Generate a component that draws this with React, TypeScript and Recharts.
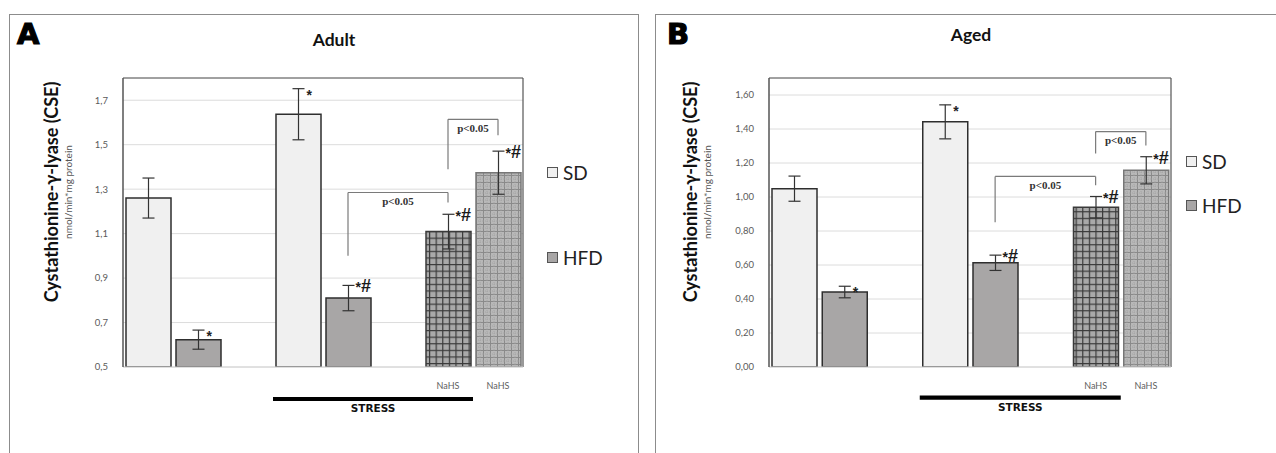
import React from 'react';
import {
  BarChart,
  Bar,
  XAxis,
  YAxis,
  CartesianGrid,
  ErrorBar,
  Cell,
  LabelList,
  ReferenceLine,
  ReferenceArea,
} from 'recharts';

// Eight slots along the x axis: two diet groups, a gap, stressed pair, a gap, NaHS pair
const slots = ['s1', 's2', 's3', 's4', 's5', 's6', 's7', 's8'];
const slotLabels = ['', '', '', '', '', '', 'NaHS', 'NaHS'];
const slotKinds = ['sd', 'hfd', 'none', 'sd', 'hfd', 'none', 'nahsSd', 'nahsHfd'];

// Adult animals
const adultValues = [1.26, 0.623, null, 1.637, 0.81, null, 1.109, 1.374];
const adultErrors = [0.09, 0.043, null, 0.115, 0.057, null, 0.078, 0.097];
const adultMarks = ['', '*', '', '*', '*#', '', '*#', '*#'];
const adultTicks = [0.5, 0.7, 0.9, 1.1, 1.3, 1.5, 1.7];
const adultDomain = [0.5, 1.8];
// brackets: [from slot, to slot, left foot, top, right foot]
const adultBrackets: [string, string, number, number, number][] = [
  ['s5', 's7', 1.0, 1.285, 1.24],
  ['s7', 's8', 1.389, 1.614, 1.542],
];
const adultStressBand = [0.347, 0.365];

// Aged animals
const agedValues = [1.049, 0.441, null, 1.442, 0.613, null, 0.94, 1.157];
const agedErrors = [0.074, 0.034, null, 0.1, 0.045, null, 0.063, 0.08];
const agedMarks = ['', '*', '', '*', '*#', '', '*#', '*#'];
const agedTicks = [0, 0.2, 0.4, 0.6, 0.8, 1.0, 1.2, 1.4, 1.6];
const agedDomain = [0, 1.7];
const agedBrackets: [string, string, number, number, number][] = [
  ['s5', 's7', 0.852, 1.121, 1.069],
  ['s7', 's8', 1.256, 1.385, 1.303],
];
const agedStressBand = [-0.192, -0.168];

// the stress period covers the stressed pair and the SD + NaHS slot
const stressSlots = ['s4', 's7'];

const legendItems = [
  { name: 'SD', fill: '#f0f0f0' },
  { name: 'HFD', fill: '#a8a6a6' },
];

type PanelProps = {
  id: string;
  values: (number | null)[];
  errors: (number | null)[];
  marks: string[];
  ticks: number[];
  domain: number[];
  decimals: number;
  brackets: [string, string, number, number, number][];
  stressBand: number[];
  width: number;
  margin: { top: number; right: number; bottom: number; left: number };
};

const fillFor = (id: string, kind: string) => {
  switch (kind) {
    case 'sd':
      return { fill: '#f0f0f0', stroke: '#2e2e2e' };
    case 'hfd':
      return { fill: '#a8a6a6', stroke: '#2e2e2e' };
    case 'nahsSd':
      return { fill: `url(#gridDark-${id})`, stroke: '#3a3a3a' };
    case 'nahsHfd':
      return { fill: `url(#gridLight-${id})`, stroke: '#777' };
    default:
      return { fill: 'none', stroke: 'none' };
  }
};

const Panel = (p: PanelProps) => {
  const rows = slots.map((s, i) => ({
    slot: s,
    value: p.values[i],
    err: p.errors[i],
    mark: p.marks[i],
  }));
  // labels are produced only for slots that hold a bar
  const drawn = rows.filter((r) => r.value != null);
  const yMin = p.domain[0];

  const renderMark = (props: any) => {
    const row = drawn[Number(props.index)];
    if (!row || !row.mark || row.value == null || row.err == null) return null;
    const k = Number(props.height) / (row.value - yMin);
    const errTop = Number(props.y) - row.err * k;
    const cx = Number(props.x) + Number(props.width) / 2;
    if (row.mark === '*') {
      return (
        <text x={cx + 8} y={errTop + 11} fontFamily="Liberation Sans, Arial" fontWeight="bold" fontSize={14} fill="#222">
          *
        </text>
      );
    }
    return (
      <text x={cx + 7} y={errTop + 7} fontFamily="Liberation Sans, Arial" fontWeight="bold" fill="#1a1a1a">
        <tspan fontSize={14}>*</tspan>
        <tspan fontSize={18}>#</tspan>
      </text>
    );
  };

  const bracketLabel = {
    value: 'p<0.05',
    position: 'bottom' as const,
    offset: 5,
    fill: '#333',
    fontSize: 11,
    fontWeight: 'bold',
    fontFamily: 'Liberation Serif, serif',
  };
  const bracketLine = { stroke: '#7a7a7a', strokeWidth: 1.2, ifOverflow: 'visible' as const };

  return (
    <BarChart width={p.width} height={453} data={rows} margin={p.margin} barSize={45}>
      <defs>
        <pattern id={`gridDark-${p.id}`} patternUnits="userSpaceOnUse" width="6.6" height="6.6">
          <rect width="6.6" height="6.6" fill="#a9a9a9" />
          <path d="M0 0.6 H6.6 M0.6 0 V6.6" stroke="#3a3a3a" strokeWidth="1.2" />
        </pattern>
        <pattern id={`gridLight-${p.id}`} patternUnits="userSpaceOnUse" width="7" height="7">
          <rect width="7" height="7" fill="#b8b8b8" />
          <path d="M0 0.5 H7 M0.5 0 V7" stroke="#8a8a8a" strokeWidth="1" />
          <path d="M0 4 H7 M4 0 V7" stroke="#a0a0a0" strokeWidth="0.8" strokeDasharray="1 1" />
        </pattern>
      </defs>
      <CartesianGrid vertical={false} stroke="#dcdcdc" />
      <XAxis
        dataKey="slot"
        axisLine={{ stroke: '#d4d4d4' }}
        tickLine={false}
        tickMargin={10}
        interval={0}
        tickFormatter={(_v: any, i: number) => slotLabels[i]}
        tick={{ fontSize: 9, fill: '#606060', fontFamily: 'Lato, sans-serif' }}
      />
      <YAxis
        domain={p.domain}
        ticks={p.ticks}
        allowDataOverflow
        width={40}
        axisLine={{ stroke: '#555', strokeWidth: 1.5 }}
        tickLine={false}
        tickMargin={9}
        tickFormatter={(v: number) => v.toFixed(p.decimals).replace('.', ',')}
        tick={{ fontSize: 9.5, fill: '#5a5a5a', fontFamily: 'Lato, sans-serif' }}
      />
      {/* plot frame: top and right edges */}
      <ReferenceLine y={p.domain[1]} stroke="#555" strokeWidth={1.2} ifOverflow="visible" />
      <ReferenceLine x={slots[slots.length - 1]} position="end" stroke="#555" strokeWidth={1.2} ifOverflow="visible" />

      <Bar dataKey="value" isAnimationActive={false} strokeWidth={1.5}>
        {rows.map((r, i) => {
          const st = fillFor(p.id, slotKinds[i]);
          return <Cell key={r.slot} fill={st.fill} stroke={st.stroke} />;
        })}
        <ErrorBar dataKey="err" width={6} stroke="#333" strokeWidth={1.2} direction="y" />
        <LabelList dataKey="mark" content={renderMark} />
      </Bar>

      {p.brackets.map((b, i) => (
        <ReferenceLine key={`bl${i}`} segment={[{ x: b[0], y: b[2] }, { x: b[0], y: b[3] }]} {...bracketLine} />
      ))}
      {p.brackets.map((b, i) => (
        <ReferenceLine
          key={`bt${i}`}
          segment={[{ x: b[0], y: b[3] }, { x: b[1], y: b[3] }]}
          {...bracketLine}
          label={bracketLabel}
        />
      ))}
      {p.brackets.map((b, i) => (
        <ReferenceLine key={`br${i}`} segment={[{ x: b[1], y: b[3] }, { x: b[1], y: b[4] }]} {...bracketLine} />
      ))}

      {/* stress period bar under the axis */}
      <ReferenceArea
        x1={stressSlots[0]}
        x2={stressSlots[1]}
        y1={p.stressBand[0]}
        y2={p.stressBand[1]}
        fill="#000"
        fillOpacity={1}
        stroke="none"
        ifOverflow="visible"
        label={{
          value: 'STRESS',
          position: 'bottom',
          offset: 4,
          fill: '#111',
          fontSize: 10.5,
          fontWeight: 'bold',
          fontFamily: 'DejaVu Sans, sans-serif',
        }}
      />
    </BarChart>
  );
};

const abs = (left: number, top: number, extra: React.CSSProperties = {}): React.CSSProperties => ({
  position: 'absolute',
  left,
  top,
  ...extra,
});

const rotated = (cx: number, cy: number, extra: React.CSSProperties): React.CSSProperties => ({
  position: 'absolute',
  left: cx,
  top: cy,
  transform: 'translate(-50%, -50%) rotate(-90deg)',
  whiteSpace: 'nowrap',
  ...extra,
});

const Legend = ({ left, tops }: { left: number; tops: number[] }) => (
  <>
    {legendItems.map((it, i) => (
      <div key={it.name} style={abs(left, tops[i] - 12, { display: 'flex', alignItems: 'center', height: 24 })}>
        <div style={{ width: 11, height: 11, background: it.fill, border: '1px solid #555', boxSizing: 'border-box' }} />
        <span style={{ marginLeft: 5, fontFamily: 'Lato, sans-serif', fontSize: 19, color: '#222' }}>{it.name}</span>
      </div>
    ))}
  </>
);

const letterStyle: React.CSSProperties = {
  fontFamily: 'DejaVu Sans, sans-serif',
  fontWeight: 900,
  fontSize: 29,
  color: '#000',
  WebkitTextStroke: '1.2px #000',
  lineHeight: '29px',
};

const titleStyle: React.CSSProperties = {
  fontFamily: 'Lato, sans-serif',
  fontWeight: 700,
  fontSize: 17.5,
  color: '#111',
  transform: 'translateX(-50%)',
  whiteSpace: 'nowrap',
};

const yTitleStyle: React.CSSProperties = {
  fontFamily: 'Lato, sans-serif',
  fontWeight: 700,
  fontSize: 18,
  color: '#111',
};

const ySubStyle: React.CSSProperties = {
  fontFamily: 'Lato, sans-serif',
  fontSize: 10,
  color: '#555',
};

export default function App() {
  return (
    <div style={{ position: 'absolute', left: 0, top: 0, width: 1276, height: 453, overflow: 'hidden', background: '#fff' }}>
      {/* panel frames */}
      <div style={abs(9, 14, { width: 630, height: 460, border: '1.5px solid #8c8c8c', borderBottom: 'none', boxSizing: 'border-box' })} />
      <div style={abs(655, 14, { width: 700, height: 460, border: '1.5px solid #8c8c8c', borderBottom: 'none', boxSizing: 'border-box' })} />

      <div style={abs(0, 0)}>
        <Panel
          id="adult"
          values={adultValues}
          errors={adultErrors}
          marks={adultMarks}
          ticks={adultTicks}
          domain={adultDomain}
          decimals={1}
          brackets={adultBrackets}
          stressBand={adultStressBand}
          width={640}
          margin={{ top: 78, right: 117, bottom: 56, left: 83 }}
        />
      </div>
      <div style={abs(640, 0)}>
        <Panel
          id="aged"
          values={agedValues}
          errors={agedErrors}
          marks={agedMarks}
          ticks={agedTicks}
          domain={agedDomain}
          decimals={2}
          brackets={agedBrackets}
          stressBand={agedStressBand}
          width={636}
          margin={{ top: 78, right: 105, bottom: 56, left: 89 }}
        />
      </div>

      {/* panel A texts */}
      <div style={abs(17, 20, letterStyle)}>A</div>
      <div style={abs(334, 29, titleStyle)}>Adult</div>
      <div style={rotated(51, 192, yTitleStyle)}>Cystathionine-γ-lyase (CSE)</div>
      <div style={rotated(68, 192, ySubStyle)}>nmol/min*mg protein</div>
      <Legend left={547} tops={[172, 257]} />

      {/* panel B texts */}
      <div style={abs(667, 20, letterStyle)}>B</div>
      <div style={abs(971, 24, titleStyle)}>Aged</div>
      <div style={rotated(690, 192, yTitleStyle)}>Cystathionine-γ-lyase (CSE)</div>
      <div style={rotated(707, 192, ySubStyle)}>nmol/min*mg protein</div>
      <Legend left={1186} tops={[161, 205]} />
    </div>
  );
}
